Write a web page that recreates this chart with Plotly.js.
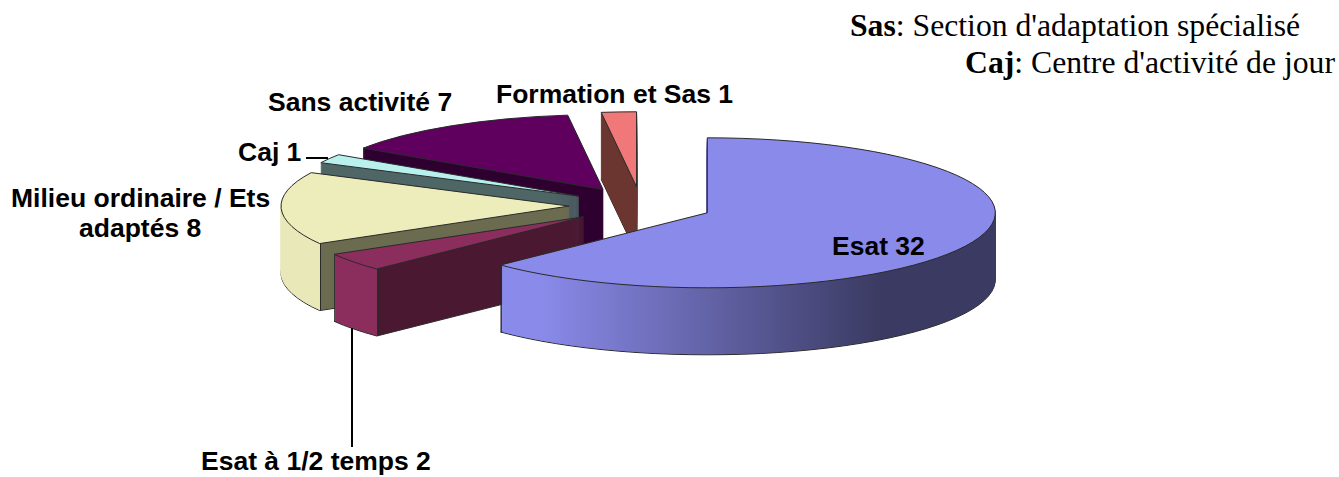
<!DOCTYPE html>
<html>
<head>
<meta charset="utf-8">
<script src="https://cdn.plot.ly/plotly-3.0.1.min.js"></script>
<style>html,body{margin:0;padding:0;background:#fff}#chart{width:1339px;height:477px}</style>
</head>
<body>
<div id="chart"></div>
<script>
// Data, in pie order, clockwise from 12 o'clock
const categories = ["Esat", "Esat à 1/2 temps", "Milieu ordinaire / Ets adaptés", "Caj", "Sans activité", "Formation et Sas"];
const values = [32, 2, 8, 1, 7, 1];
const explode = 0.25;

// Styles
const edgeCol = "#2a2a2a";
const topColors = ["#8A8AEA", "#8B2E5E", "#EDEDBC", "#B8F0EE", "#5F005F", "#F07878"];
const wallStops = [
  [[0.003, edgeCol], [0.003, "#8A8AEA"], [0.08, "#8A8AEA"], [0.77, "#3A3A62"], [1, "#3A3A62"]],
  [[0.005, edgeCol], [0.005, "#8B2E5E"], [0.172, "#8B2E5E"], [0.172, edgeCol], [0.178, edgeCol], [0.178, "#4A1830"], [1, "#4A1830"]],
  [[0.135, "#E8E8B8"], [0.135, edgeCol], [0.14, edgeCol], [0.14, "#6B6B50"], [1, "#6B6B50"]],
  [[1, "#4F6666"]],
  [[1, "#2D0030"]],
  [[1, "#6B3530"]]
];
const paintOrder = [5, 4, 3, 2, 1, 0];   // back to front
const depth = 67, W = 1339, H = 477;
const centreX = 641, centreY = 205.5, radiusX = 288, radiusY = 75;

const none = "rgba(0,0,0,0)";
const traces = [], meta = [];
paintOrder.forEach(s => {
  for (let d = depth; d >= 0; d--) {
    const edge = d === 0 || d === depth;
    traces.push({
      type: "pie", labels: categories, values: values, sort: false, direction: "clockwise", rotation: 0,
      pull: explode, textinfo: "none", hoverinfo: "skip", showlegend: false,
      marker: {
        colors: values.map((_, i) => i === s ? (d === 0 ? topColors[s] : wallStops[s][wallStops[s].length - 1][1]) : none),
        line: { width: edge ? 1 : 0, color: values.map((_, i) => i === s && edge ? edgeCol : none) }
      }
    });
    meta.push({ s, d, edge });
  }
});

const px = x => x / W, py = y => 1 - y / H;
const label = (i) => categories[i] + " " + values[i];
const chartLabels = [
  { text: label(0), x: 879, y: 246 },
  { text: label(1), x: 316, y: 461 },
  { text: "Milieu ordinaire / Ets", x: 140, y: 198 },
  { text: "adaptés " + values[2], x: 140, y: 228 },
  { text: label(3), x: 269, y: 152 },
  { text: label(4), x: 360, y: 102 },
  { text: label(5), x: 614, y: 94 }
];
const annotations = chartLabels.map(l => ({
  xref: "paper", yref: "paper", x: px(l.x), y: py(l.y), xanchor: "center", yanchor: "middle", showarrow: false,
  text: "<b>" + l.text + "</b>", font: { family: "Liberation Sans", size: 26.5, color: "#000" }
}));
const notes = [
  { text: "<b>Sas</b>: Section d'adaptation spécialisé", x: 848, y: 26 },
  { text: "<b>Caj</b>: Centre d'activité de jour", x: 963, y: 62 }
];
notes.forEach(n => annotations.push({
  xref: "paper", yref: "paper", x: px(n.x), y: py(n.y), xanchor: "left", yanchor: "middle", showarrow: false,
  text: n.text, font: { family: "Liberation Serif", size: 31.7, color: "#000" }
}));
const lineStyle = { color: "#000", width: 2 };
const shapes = [
  { type: "line", xref: "paper", yref: "paper", x0: px(306), x1: px(328), y0: py(158), y1: py(158), line: lineStyle },
  { type: "line", xref: "paper", yref: "paper", x0: px(352), x1: px(352), y0: py(328), y1: py(447), line: lineStyle }
];

Plotly.newPlot("chart", traces, {
  width: W, height: H, margin: { l: 0, r: 0, t: 0, b: 0 }, paper_bgcolor: "#fff",
  annotations, shapes
}, { displayModeBar: false, staticPlot: true }).then(gd => {
  const r0 = Math.min(W, H) / 2 / (1 + explode);
  const sx = radiusX / r0, sy = radiusY / r0;
  const svg = gd.querySelector(".main-svg");
  const ns = "http://www.w3.org/2000/svg";
  const defs = svg.querySelector("defs") || svg.insertBefore(document.createElementNS(ns, "defs"), svg.firstChild);
  wallStops.forEach((stops, i) => {
    const g = document.createElementNS(ns, "linearGradient");
    g.setAttribute("id", "wall" + i);
    g.setAttribute("x1", "0"); g.setAttribute("x2", "1"); g.setAttribute("y1", "0"); g.setAttribute("y2", "0");
    stops.forEach(st => {
      const e = document.createElementNS(ns, "stop");
      e.setAttribute("offset", st[0]); e.setAttribute("stop-color", st[1]);
      g.appendChild(e);
    });
    defs.appendChild(g);
  });
  gd.querySelectorAll(".pielayer .trace").forEach((t, k) => {
    const m = meta[k];
    const tx = centreX - W / 2 * sx, ty = centreY - H / 2 * sy + m.d;
    t.setAttribute("transform", `translate(${tx},${ty}) scale(${sx},${sy})`);
    t.querySelectorAll(".slice").forEach((sl, i) => {
      const p = sl.querySelector("path.surface");
      if (!p) return;
      p.style.vectorEffect = "non-scaling-stroke";
      if (i === m.s && m.d > 0) {
        p.style.fill = `url(#wall${i})`;
        if (!m.edge) { p.style.stroke = `url(#wall${i})`; p.style.strokeWidth = "0.7px"; p.style.strokeOpacity = "1"; }
      }
    });
  });
});
</script>
</body>
</html>
